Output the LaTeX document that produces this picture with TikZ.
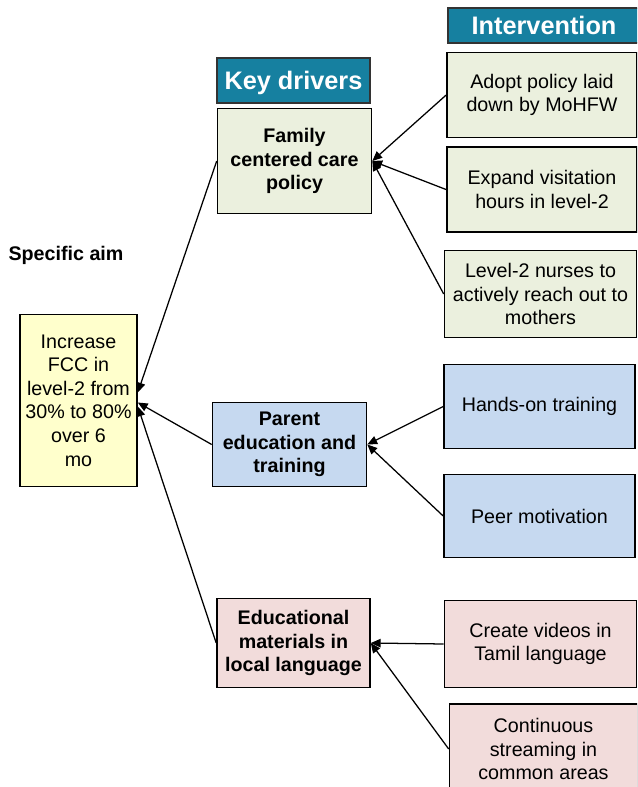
\documentclass[tikz,border=0pt]{standalone}
\usepackage{fontspec}
\setmainfont{Liberation Sans}
\usetikzlibrary{arrows.meta, positioning}

\definecolor{hdrteal}{RGB}{22,128,160}
\definecolor{aimyel}{RGB}{255,255,204}
\definecolor{fccgrn}{RGB}{235,240,222}
\definecolor{edublu}{RGB}{198,217,240}
\definecolor{matpnk}{RGB}{242,220,219}

\begin{document}
\begin{tikzpicture}[
    x=0.025cm, y=-0.025cm,
    bx/.style={rectangle, draw=black, line width=1.1pt, align=center, inner sep=0pt,
               font=\fontsize{14}{16.8}\selectfont},
    hdr/.style={bx, draw=black!80, fill=hdrteal, text=white, text depth=0pt,
                font=\fontsize{18}{20}\selectfont\bfseries},
    drv/.style={bx, font=\fontsize{14}{16.8}\selectfont\bfseries, minimum width=3.85cm},
    itv/.style={bx, minimum width=4.75cm},
    nar/.style={-{Triangle[length=7pt,width=6pt]}, line width=0.9pt},
]
\clip (0,0) rectangle (637,787);

% Aim
\node[font=\fontsize{14}{16}\selectfont\bfseries] (sa) at (66,255) {Specific aim};
\node[bx, fill=aimyel, minimum width=2.925cm, minimum height=4.3cm] (aim) at (78.5,400.5)
    {Increase\\FCC in\\level-2 from\\30\% to 80\%\\over 6\\mo};

% Key drivers
\node[hdr, minimum width=3.825cm, minimum height=1.125cm] (kd) at (293.5,80.5) {Key drivers};
\node[drv, fill=fccgrn, minimum height=2.625cm] (fam) at (294.5,161) {Family\\centered care\\policy};
\node[drv, fill=edublu, minimum height=2.1cm] (par) at (289.5,444.5) {Parent\\education and\\training};
\node[drv, fill=matpnk, minimum height=2.225cm, minimum width=3.825cm] (edu) at (293.5,643)
    {Educational\\materials in\\local language};

% Interventions
\node[hdr, minimum width=4.8cm, minimum height=0.875cm] (int) at (544,25.5) {Intervention};
\node[itv, fill=fccgrn, minimum height=2.125cm] (adp) at (542,95) {Adopt policy laid\\down by MoHFW};
\node[itv, fill=fccgrn, minimum height=2.125cm, below=0.2cm of adp] (vis) {Expand visitation\\hours in level-2};
\node[itv, fill=fccgrn, minimum height=2.175cm, minimum width=4.8cm] (nrs) at (540.5,294)
    {Level-2 nurses to\\actively reach out to\\mothers};
\node[itv, fill=edublu, minimum height=2.1cm, minimum width=4.775cm] (hnd) at (539.5,406.5) {Hands-on training};
\node[itv, fill=edublu, minimum height=2.075cm, minimum width=4.775cm] (peer) at (539.5,516) {Peer motivation};
\node[itv, fill=matpnk, minimum height=2.175cm, minimum width=4.8cm] (vid) at (540.5,644)
    {Create videos in\\Tamil language};
\node[itv, fill=matpnk, minimum height=2.25cm, minimum width=4.7cm] (strm) at (543.5,749)
    {Continuous\\streaming in\\common areas};

% Arrows to drivers
\draw[nar] (adp.west) -- (fam.east);
\draw[nar] (vis.west) -- (fam.east);
\draw[nar] (nrs.west) -- (fam.east);
\draw[nar] (hnd.west) -- (par.east);
\draw[nar] (peer.west) -- (par.east);
\draw[nar] (vid.west) -- (edu.east);
\draw[nar] (strm.west) -- (edu.east);

% Arrows to aim
\draw[nar] (fam.west) -- ([yshift=0.2cm]aim.east);
\draw[nar] (par.west) -- ([yshift=-0.05cm]aim.east);
\draw[nar] (edu.west) -- ([yshift=-0.15cm]aim.east);
\end{tikzpicture}
\end{document}
